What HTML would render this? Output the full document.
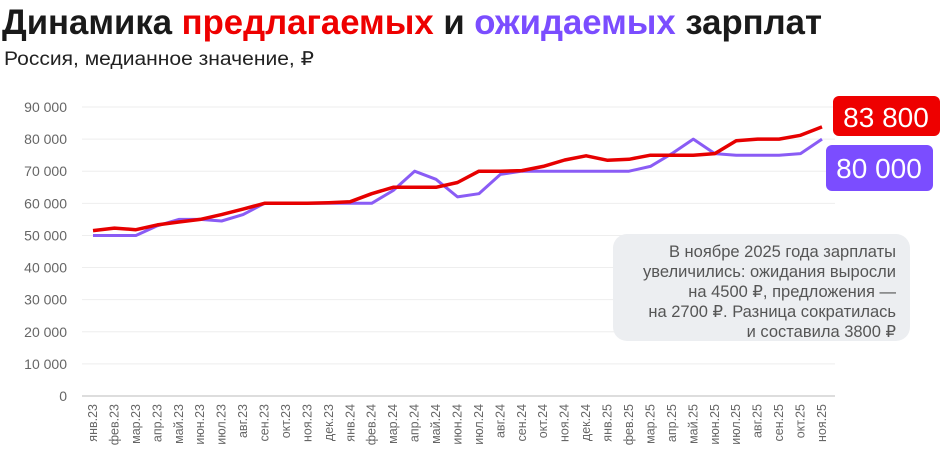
<!DOCTYPE html>
<html><head><meta charset="utf-8"><style>
html,body{margin:0;padding:0;background:#fff;width:946px;height:453px;overflow:hidden}
text{font-family:"Liberation Sans",sans-serif}
</style></head><body>
<svg id="s" width="946" height="453" xmlns="http://www.w3.org/2000/svg">
<text x="2" y="34" font-size="35" font-weight="bold" fill="#1a1a1a" textLength="820" lengthAdjust="spacingAndGlyphs">Динамика <tspan fill="#ee0000">предлагаемых</tspan> и <tspan fill="#7b4dff">ожидаемых</tspan> зарплат</text>
<text x="4" y="65" font-size="19" fill="#222" textLength="310" lengthAdjust="spacingAndGlyphs">Россия, медианное значение, ₽</text>
<g id="grid"></g>
<rect x="613" y="234" width="297" height="107" rx="14" fill="#eceef1"/>
<g font-size="16.5" fill="#555" text-anchor="end">
<text x="896" y="257">В ноябре 2025 года зарплаты</text>
<text x="896" y="277">увеличились: ожидания выросли</text>
<text x="896" y="297">на 4500 ₽, предложения —</text>
<text x="896" y="317">на 2700 ₽. Разница сократилась</text>
<text x="896" y="337">и составила 3800 ₽</text>
</g>
<g id="lines"></g>
<rect x="833" y="96" width="107" height="40" rx="6" fill="#ee0000"/>
<text x="886" y="127" font-size="28" fill="#fff" text-anchor="middle">83 800</text>
<rect x="826" y="145" width="107" height="46" rx="6" fill="#7b4dff"/>
<text x="879" y="178" font-size="28" fill="#fff" text-anchor="middle">80 000</text>
</svg>
<script>
var ns="http://www.w3.org/2000/svg",g=document.getElementById('grid'),L=document.getElementById('lines');
function el(t,a,p,txt){var e=document.createElementNS(ns,t);for(var k in a)e.setAttribute(k,a[k]);if(txt)e.textContent=txt;p.appendChild(e);return e;}
function Y(v){return 396-v*3.211;}
for(var i=0;i<=9;i++){var y=Y(i*10);
el('line',{x1:82,x2:835,y1:y,y2:y,stroke:i?'#eeeeee':'#bbbbbb','stroke-width':1},g);
el('text',{x:67,y:y+5,'font-size':14,fill:'#666','text-anchor':'end'},g,i?(i*10)+' 000':'0');}
var m=['янв','фев','мар','апр','май','июн','июл','авг','сен','окт','ноя','дек'];
function X(i){return 93+i*21.44;}
for(var i=0;i<35;i++){var lb=m[i%12]+'.'+(23+Math.floor(i/12));var x=X(i)+4;
el('text',{x:0,y:0,'font-size':12.5,fill:'#666','text-anchor':'end',transform:'translate('+x+',404) rotate(-90)'},g,lb);}
var red=[51.5,52.3,51.8,53.3,54.2,55,56.5,58.2,60,60,60,60.2,60.5,63,65,65,65,66.5,70,70,70.2,71.5,73.5,74.8,73.4,73.7,75,75,75,75.5,79.5,80,80,81.2,83.8];
var pur=[50,50,50,53,55,55,54.5,56.5,60,60,60,60,60,60,64,70,67.5,62,63,69,70,70,70,70,70,70,71.5,75.5,80,75.5,75,75,75,75.5,80];
function pts(a){return a.map(function(v,i){return X(i).toFixed(1)+','+Y(v).toFixed(1)}).join(' ');}
el('polyline',{points:pts(pur),fill:'none',stroke:'#8a5cf5','stroke-width':3,'stroke-linejoin':'round'},L);
el('polyline',{points:pts(red),fill:'none',stroke:'#e60000','stroke-width':3.5,'stroke-linejoin':'round'},L);
</script>
</body></html>
